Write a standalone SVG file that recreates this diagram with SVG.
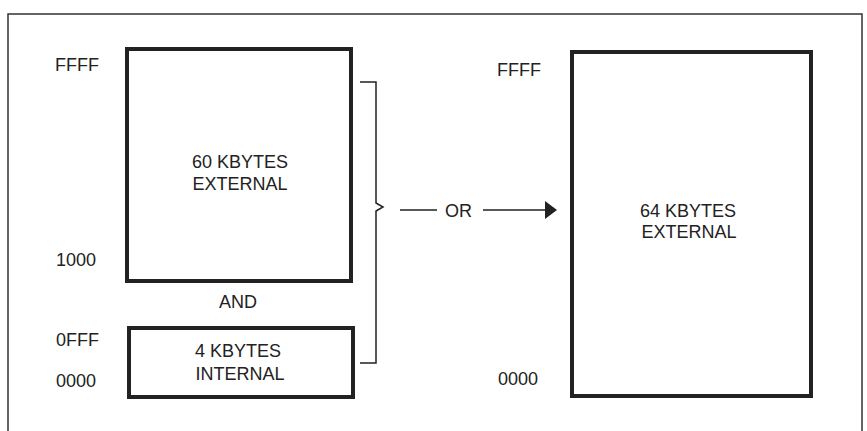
<svg xmlns="http://www.w3.org/2000/svg" width="867" height="431" viewBox="0 0 867 431">
<style>
.box{fill:none;stroke:#222;stroke-width:4}
.t{font-family:"Liberation Sans",Arial,sans-serif;font-size:18px;fill:#222}
.c{text-anchor:middle}
.ln{fill:none;stroke:#222;stroke-width:1.5}
.frame{fill:none;stroke:#333;stroke-width:1.5}
</style>
<rect width="867" height="431" fill="#fff"/>
<g id="frame">
<polyline class="frame" points="8,431 8,14 862,14 862,431"/>
</g>
<g id="ext60">
<rect class="box" x="127" y="49" width="224" height="232"/>
<text class="t c" x="240" y="168">60 KBYTES</text>
<text class="t c" x="240" y="190">EXTERNAL</text>
<text class="t" x="55" y="71">FFFF</text>
<text class="t" x="56" y="266">1000</text>
</g>
<g id="and">
<text class="t c" x="238" y="308">AND</text>
</g>
<g id="int4">
<rect class="box" x="129" y="328" width="224" height="69"/>
<text class="t c" x="238" y="357">4 KBYTES</text>
<text class="t c" x="240" y="380">INTERNAL</text>
<text class="t" x="56" y="346">0FFF</text>
<text class="t" x="56" y="387">0000</text>
</g>
<g id="ext64">
<rect class="box" x="572" y="52" width="239" height="344"/>
<text class="t c" x="688" y="217">64 KBYTES</text>
<text class="t c" x="689" y="238">EXTERNAL</text>
<text class="t" x="497" y="76">FFFF</text>
<text class="t" x="498" y="385">0000</text>
</g>
<g id="connectors">
<path class="ln" d="M360,82 H376 V203 L383,207 L376,211 V363 H360"/>
<line class="ln" x1="400" y1="210" x2="437" y2="210"/>
<text class="t" x="445" y="217">OR</text>
<line class="ln" x1="483" y1="210" x2="547" y2="210"/>
<polygon points="545,201 557,210 545,219" fill="#222"/>
</g>
</svg>
